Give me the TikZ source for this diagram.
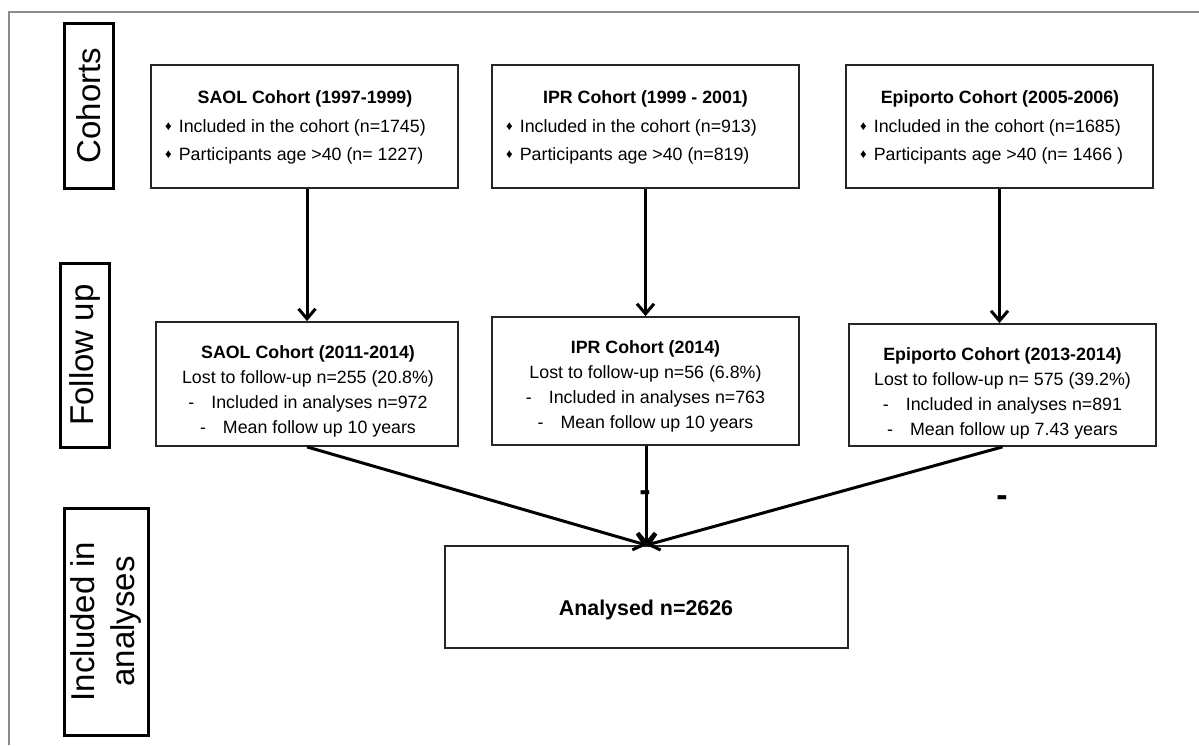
\documentclass[tikz,border=0pt]{standalone}
\usepackage{fontspec}
\setmainfont{Liberation Sans}
\usetikzlibrary{arrows.meta}
\newcommand\mybul{\raisebox{1.5pt}{\fontsize{13}{13}\selectfont ♦}\hspace{7pt}}
\newcommand\mydash{-\hspace{17pt}}
\begin{document}
\begin{tikzpicture}[x=1pt,y=-1pt,
  bx/.style={draw=black!85, line width=1.8pt, inner sep=0pt, fill=white},
  lab/.style={draw=black, line width=3pt, inner sep=0pt, rotate=90, align=center,
    font=\fontsize{33}{40}\selectfont},
  tx/.style={inner sep=0pt, anchor=base, font=\fontsize{17.8}{20}\selectfont},
  tl/.style={inner sep=0pt, anchor=base west, font=\fontsize{17.8}{20}\selectfont},
  tb/.style={inner sep=0pt, anchor=base, font=\fontsize{17.8}{20}\selectfont\bfseries},
  arr/.style={line width=3pt, -{Straight Barb[length=10pt,width=17pt]}}]
\useasboundingbox (0,0) rectangle (1199,745);
\fill[white] (0,0) rectangle (1199,745);
% frame
\draw[black!45, line width=2.5pt] (9,745) -- (9,12) -- (1199,12);
% row labels
\node[lab, minimum width=165pt, minimum height=49pt] (lc) at (88.5,105.5) {Cohorts};
\node[lab, minimum width=184pt, minimum height=49pt] (lf) at (84.5,355) {Follow up};
\node[lab, minimum width=227pt, minimum height=84pt] (li) at (106,621.5) {Included in\\analyses};
% cohort boxes
\node[bx, minimum width=307pt, minimum height=123pt] (saol) at (304.5,126.5) {};
\node[bx, minimum width=307pt, minimum height=123pt] (ipr) at (645.5,126.5) {};
\node[bx, minimum width=307pt, minimum height=123pt] (epi) at (999.5,126.5) {};
\node[tb] (saolt) at (305,103) {SAOL Cohort (1997-1999)};
\node[tl] (saol1) at (165,132) {\mybul Included in the cohort (n=1745)};
\node[tl] (saol2) at (165,160) {\mybul Participants age >40 (n= 1227)};
\node[tb] (iprt) at (645.5,103) {IPR Cohort (1999 - 2001)};
\node[tl] (ipr1) at (506,132) {\mybul Included in the cohort (n=913)};
\node[tl] (ipr2) at (506,160) {\mybul Participants age >40 (n=819)};
\node[tb] (epit) at (1000,103) {Epiporto Cohort (2005-2006)};
\node[tl] (epi1) at (860,132) {\mybul Included in the cohort (n=1685)};
\node[tl] (epi2) at (860,160) {\mybul Participants age >40 (n= 1466 )};
% follow-up boxes
\node[bx, minimum width=302pt, minimum height=124pt] (saolfu) at (307,384) {};
\node[bx, minimum width=307pt, minimum height=128pt] (iprfu) at (645.5,381) {};
\node[bx, minimum width=307pt, minimum height=122pt] (epifu) at (1002.5,385) {};
\node[tb] (sf0) at (308,358) {SAOL Cohort (2011-2014)};
\node[tx] (sf1) at (308,383) {Lost to follow-up n=255 (20.8\%)};
\node[tx] (sf2) at (308,408) {\mydash Included in analyses n=972};
\node[tx] (sf3) at (308,433) {\mydash Mean follow up 10 years};
\node[tb] (if0) at (645.5,353) {IPR Cohort (2014)};
\node[tx] (if1) at (645.5,378) {Lost to follow-up n=56 (6.8\%)};
\node[tx] (if2) at (645.5,403) {\mydash Included in analyses n=763};
\node[tx] (if3) at (645.5,428) {\mydash Mean follow up 10 years};
\node[tb] (ef0) at (1002.5,360) {Epiporto Cohort (2013-2014)};
\node[tx] (ef1) at (1002.5,385) {Lost to follow-up n= 575 (39.2\%)};
\node[tx] (ef2) at (1002.5,410) {\mydash Included in analyses n=891};
\node[tx] (ef3) at (1002.5,435) {\mydash Mean follow up 7.43 years};
% analysed
\node[bx, minimum width=403pt, minimum height=102pt] (an) at (646.5,597) {};
\node[inner sep=0pt, anchor=base, font=\fontsize{21.4}{24}\selectfont\bfseries] (ant) at (646,615) {Analysed n=2626};
% stray dashes
\node[inner sep=0pt, font=\fontsize{34}{36}\selectfont\bfseries] (m1) at (645,496) {-};
\node[inner sep=0pt, font=\fontsize{34}{36}\selectfont\bfseries] (m2) at (1002,501) {-};
% arrows
\draw[arr] (saol.south -| saolfu.north) -- (saolfu.north);
\draw[arr] (ipr.south) -- (ipr.south |- iprfu.north);
\draw[arr] (epi.south) -- (epi.south |- epifu.north);
\draw[arr] (saolfu.south) -- (an.north);
\draw[arr] (iprfu.south -| an.north) -- (an.north);
\draw[arr] (epifu.south) -- (an.north);
\end{tikzpicture}
\end{document}
